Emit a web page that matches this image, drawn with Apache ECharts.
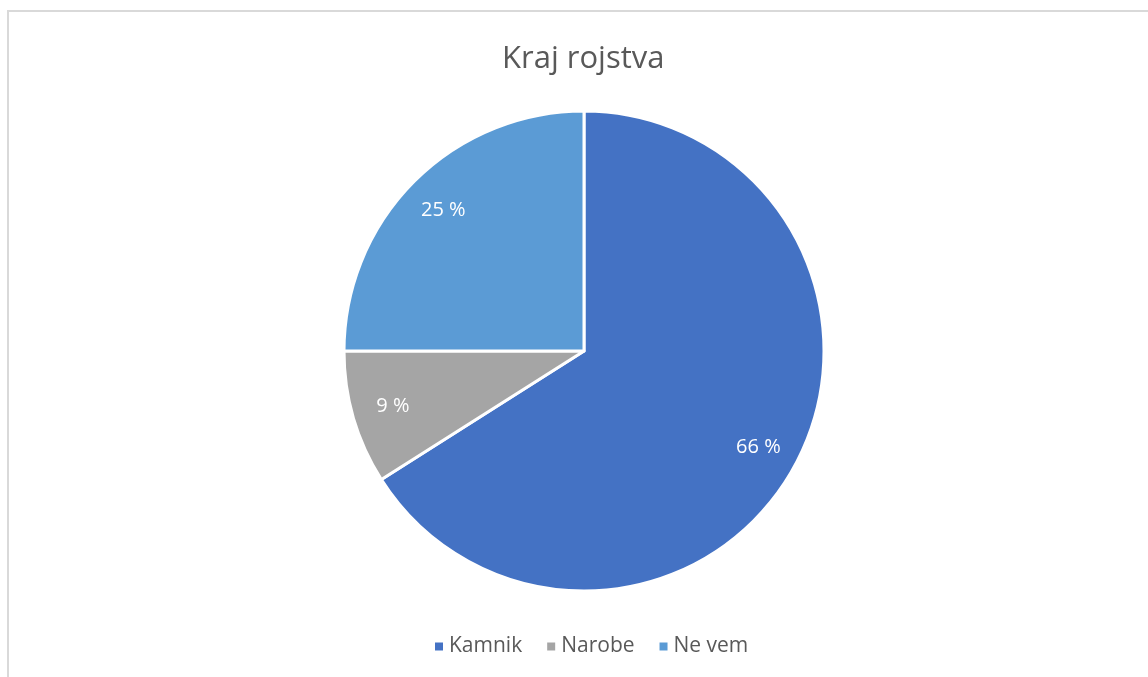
<!DOCTYPE html>
<html lang="sl">
<head>
<meta charset="utf-8">
<title>Kraj rojstva</title>
<script src="https://cdn.jsdelivr.net/npm/echarts@6/dist/echarts.min.js"></script>
<style>
    html, body { margin: 0; padding: 0; background: #fff; }
    #chart { width: 1148px; height: 677px; }
</style>
</head>
<body>
<div id="chart"></div>
<script>
    // podatki
    var categories = ['Kamnik', 'Narobe', 'Ne vem'];
    var values = [66, 9, 25];
    var colors = ['#4472c4', '#a5a5a5', '#5b9bd5'];

    var pieData = categories.map(function (name, i) {
        return { name: name, value: values[i], itemStyle: { color: colors[i] } };
    });
    // second ring only carries the labels, so they sit near the outer edge
    var labelData = categories.map(function (name, i) {
        return { name: name, value: values[i] };
    });

    var myChart = echarts.init(document.getElementById('chart'));
    myChart.setOption({
        backgroundColor: '#fff',
        animation: false,
        graphic: [{
            type: 'rect',
            shape: { x: 8, y: 11, width: 1160, height: 700 },
            style: { fill: 'none', stroke: '#d9d9d9', lineWidth: 2 },
            silent: true
        }],
        title: {
            text: 'Kraj rojstva',
            left: 497,
            top: 39,
            textStyle: {
                color: '#595959',
                fontSize: 31,
                fontWeight: 'normal',
                fontFamily: 'Open Sans'
            }
        },
        legend: {
            data: categories,
            bottom: 15,
            left: 428,
            icon: 'rect',
            itemWidth: 10,
            itemHeight: 10,
            itemGap: 23,
            textStyle: {
                color: '#595959',
                fontSize: 21,
                fontFamily: 'Open Sans'
            }
        },
        series: [
            {
                name: 'Kraj rojstva',
                type: 'pie',
                center: [584, 351],
                radius: [0, 240],
                startAngle: 90,
                clockwise: true,
                data: pieData,
                itemStyle: { borderColor: '#fff', borderWidth: 3 },
                label: { show: false },
                labelLine: { show: false },
                emphasis: { disabled: true }
            },
            {
                name: 'labels',
                type: 'pie',
                center: [584, 351],
                radius: [152, 240],
                startAngle: 90,
                clockwise: true,
                silent: true,
                data: labelData,
                itemStyle: { color: 'transparent' },
                label: {
                    show: true,
                    position: 'inside',
                    color: '#fff',
                    fontSize: 20,
                    fontFamily: 'Open Sans',
                    formatter: function (p) { return p.value + ' %'; }
                },
                labelLine: { show: false },
                emphasis: { disabled: true }
            }
        ]
    });
</script>
</body>
</html>
